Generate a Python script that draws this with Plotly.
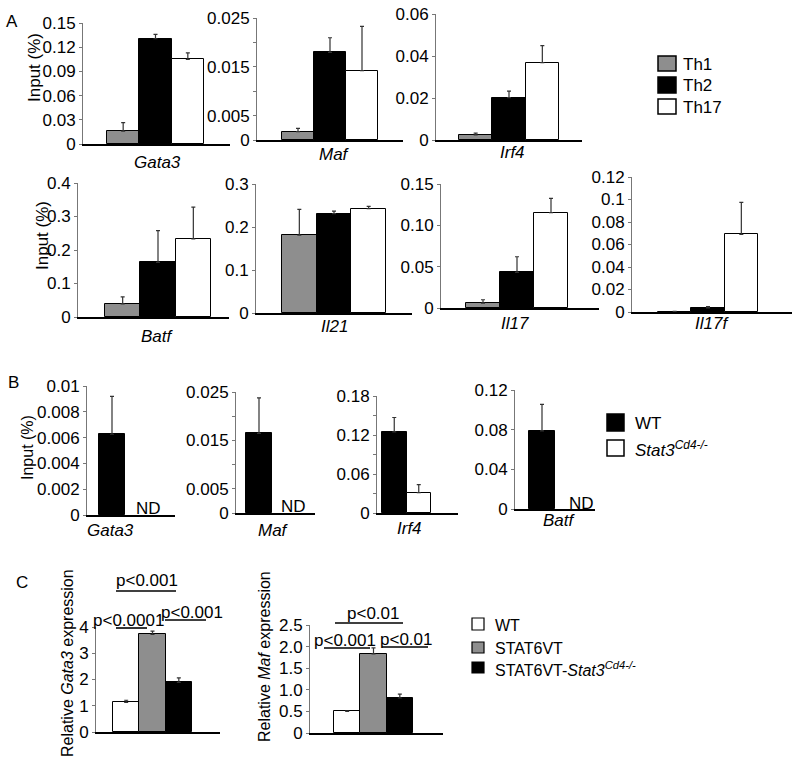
import plotly.graph_objects as go

W, H = 800, 762
FONT = "Liberation Sans, Arial, sans-serif"

# ---------------- data ----------------
groups_A = ["Th1", "Th2", "Th17"]
genes_A = ["Gata3", "Maf", "Irf4", "Batf", "Il21", "Il17", "Il17f"]
th1_vals = [0.016, 0.0017, 0.0024, 0.039, 0.181, 0.006, 0.0003]
th1_err = [0.0105, 0.0007, 0.0009, 0.021, 0.060, 0.004, 0.0002]
th2_vals = [0.1305, 0.01795, 0.0202, 0.163, 0.231, 0.043, 0.0036]
th2_err = [0.0055, 0.0030, 0.0031, 0.095, 0.006, 0.019, 0.0011]
th17_vals = [0.105, 0.0142, 0.0368, 0.233, 0.2425, 0.1154, 0.069]
th17_err = [0.008, 0.0091, 0.0081, 0.095, 0.0055, 0.0173, 0.0285]

groups_B = ["WT", "Stat3Cd4-/-"]
genes_B = ["Gata3", "Maf", "Irf4", "Batf"]
wt_vals = [0.00626, 0.01644, 0.1249, 0.0788]
wt_err = [0.00294, 0.00733, 0.022, 0.0268]
ko_vals = [None, None, 0.0314, None]
ko_err = [0.0, 0.0, 0.0123, 0.0]

groups_C = ["WT", "STAT6VT", "STAT6VT-Stat3Cd4-/-"]
gata3_C = [1.13, 3.72, 1.89]
gata3_C_err = [0.08, 0.12, 0.17]
maf_C = [0.50, 1.83, 0.81]
maf_C_err = [0.01, 0.14, 0.09]

# (labelled tick values, tick labels, unlabelled minor tick values)
ticks_A = [
    ([0, 0.03, 0.06, 0.09, 0.12, 0.15], ["0", "0.03", "0.06", "0.09", "0.12", "0.15"], []),
    ([0, 0.005, 0.015, 0.025], ["0", "0.005", "0.015", "0.025"], [0.01, 0.02]),
    ([0, 0.02, 0.04, 0.06], ["0", "0.02", "0.04", "0.06"], []),
    ([0, 0.1, 0.2, 0.3, 0.4], ["0", "0.1", "0.2", "0.3", "0.4"], []),
    ([0, 0.1, 0.2, 0.3], ["0", "0.1", "0.2", "0.3"], []),
    ([0, 0.05, 0.10, 0.15], ["0", "0.05", "0.10", "0.15"], []),
    ([0, 0.02, 0.04, 0.06, 0.08, 0.1, 0.12], ["0", "0.02", "0.04", "0.06", "0.08", "0.1", "0.12"], []),
]
ticks_B = [
    ([0, 0.002, 0.004, 0.006, 0.008, 0.01], ["0", "0.002", "0.004", "0.006", "0.008", "0.01"], []),
    ([0, 0.005, 0.015, 0.025], ["0", "0.005", "0.015", "0.025"], [0.01, 0.02]),
    ([0, 0.06, 0.12, 0.18], ["0", "0.06", "0.12", "0.18"], [0.03, 0.09, 0.15]),
    ([0, 0.04, 0.08, 0.12], ["0", "0.04", "0.08", "0.12"], []),
]
ticks_C = [
    ([0, 1, 2, 3, 4], ["0", "1", "2", "3", "4"], []),
    ([0, 0.5, 1.0, 1.5, 2.0, 2.5], ["0", "0.5", "1.0", "1.5", "2.0", "2.5"], []),
]

# ---------------- layout geometry (pixels) ----------------
geo_A = [  # axis x left/right, bars left/right, y zero px, y top px
    (83, 230, 107, 204, 144, 23),
    (257, 403, 282, 378, 140, 18),
    (436, 582, 459, 559, 140, 14),
    (78, 229, 105, 211, 317, 183),
    (256, 412, 282, 386, 313, 184),
    (441, 599, 466, 568, 308, 184),
    (632, 792, 658, 758, 312, 177),
]
geo_B = [
    (87, 175, 99, 151, 515, 386),
    (236, 315, 246, 298, 513, 392),
    (377, 458, 382, 431, 513, 396),
    (515, 595, 529, 581, 509, 390),
]
geo_C = [
    (96, 220, 113, 192, 732, 627),
    (310, 443, 334, 413, 733, 625),
]

GRAY = "#8e8e8e"


def X(p):
    return p / W


def Y(p):
    return 1 - p / H


fig = go.Figure()
layout = {}
idx = [0]


def add_panel(groups, vals, errs, colors, geo, tv, tt, minor):
    idx[0] += 1
    i = idx[0]
    xl, xr, bl, br, y0, y1 = geo
    n = len(groups)
    unit = (br - bl) / n
    c0 = bl + unit / 2
    xs = "x" if i == 1 else f"x{i}"
    ys = "y" if i == 1 else f"y{i}"
    fig.add_trace(go.Bar(
        x=groups, y=vals, xaxis=xs, yaxis=ys, width=1.0,
        marker=dict(color=colors, line=dict(color="black", width=1)),
        error_y=dict(type="data", symmetric=False, array=errs,
                     arrayminus=[0] * n, color="#333333", thickness=1.2, width=2),
        showlegend=False, hoverinfo="skip",
    ))
    layout["xaxis" if i == 1 else f"xaxis{i}"] = dict(
        domain=[X(xl), X(xr)], anchor=ys, type="category",
        categoryorder="array", categoryarray=groups,
        range=[(xl - c0) / unit, (xr - c0) / unit],
        showline=True, linecolor="black", linewidth=1.5, automargin=False,
        showticklabels=False, ticks="", showgrid=False, zeroline=False,
    )
    top = max(tv + minor)
    ya = dict(
        domain=[Y(y0), Y(y1)], anchor=xs, range=[0, top], automargin=False,
        showline=True, linecolor="#777777", linewidth=1,
        ticks="outside", ticklen=3, tickcolor="#777777",
        tickvals=tv, ticktext=tt, tickfont=dict(size=17, color="black", family=FONT),
        showgrid=False, zeroline=False,
    )
    if minor:
        ya["minor"] = dict(tickvals=minor, ticks="outside", ticklen=3,
                           tickcolor="#777777", showgrid=False)
    layout["yaxis" if i == 1 else f"yaxis{i}"] = ya
    return i


for k in range(len(genes_A)):
    add_panel(groups_A, [th1_vals[k], th2_vals[k], th17_vals[k]],
              [th1_err[k], th2_err[k], th17_err[k]],
              [GRAY, "black", "white"], geo_A[k], *ticks_A[k])

for k in range(len(genes_B)):
    add_panel(groups_B, [wt_vals[k], ko_vals[k]],
              [wt_err[k], ko_err[k]],
              ["black", "white"], geo_B[k], *ticks_B[k])

add_panel(groups_C, gata3_C, gata3_C_err, ["white", GRAY, "black"], geo_C[0], *ticks_C[0])
add_panel(groups_C, maf_C, maf_C_err, ["white", GRAY, "black"], geo_C[1], *ticks_C[1])

annotations = []
shapes = []


def text(x, y, s, size=17, angle=0, xanchor="center", italic=False):
    if italic:
        s = f"<i>{s}</i>"
    annotations.append(dict(
        x=X(x), y=Y(y), xref="paper", yref="paper", text=s, showarrow=False,
        xanchor=xanchor, yanchor="middle", textangle=angle,
        font=dict(size=size, color="black", family=FONT)))


def hline(x0, x1, y):
    shapes.append(dict(type="line", xref="paper", yref="paper",
                       x0=X(x0), x1=X(x1), y0=Y(y), y1=Y(y),
                       line=dict(color="black", width=1.6)))


def box(x0, y0, x1, y1, color, lw=1.5):
    shapes.append(dict(type="rect", xref="paper", yref="paper",
                       x0=X(x0), x1=X(x1), y0=Y(y0), y1=Y(y1),
                       fillcolor=color, line=dict(color="black", width=lw)))


# panel letters
text(12, 22, "A", size=17)
text(13, 383, "B", size=17)
text(22, 582, "C", size=17)

# y titles
text(34, 68, "Input (%)", angle=-90)
text(43, 236, "Input (%)", angle=-90)
text(27, 448, "Input (%)", size=16, angle=-90)
text(67, 663, "Relative <i>Gata3</i> expression", size=16, angle=-90)
text(264, 657, "Relative <i>Maf</i> expression", size=16, angle=-90)

# gene labels
gene_pos_A = [(157, 162), (334, 155), (512, 153), (157, 336), (334, 326), (515, 323), (712, 323)]
for g, (gx, gy) in zip(genes_A, gene_pos_A):
    text(gx, gy, g, italic=True)
gene_pos_B = [(110, 530), (273, 530), (410, 528), (559, 520)]
for g, (gx, gy) in zip(genes_B, gene_pos_B):
    text(gx, gy, g, italic=True)

# ND labels
nd_pos = [(148, 508), (293, 506), None, (581, 503)]
for k, p in enumerate(nd_pos):
    if ko_vals[k] is None and p is not None:
        text(p[0], p[1], "ND", size=17)

# legend A
legA_y = [(56, 71), (77, 93), (99, 114)]
for g, c, (a, b) in zip(groups_A, [GRAY, "black", "white"], legA_y):
    box(658, a, 676, b, c)
    text(681, (a + b) / 2 + 1, g, size=17, xanchor="left")

# legend B
legB = [("WT", "black", 414, 431), ("<i>Stat3</i><sup><i>Cd4-/-</i></sup>", "white", 440, 456)]
for s, c, a, b in legB:
    box(607, a, 624, b, c)
    text(633, (a + b) / 2 + 1, s, size=17, xanchor="left")

# legend C
legC = [("WT", "white", 618, 630),
        ("STAT6VT", GRAY, 642, 653),
        ("STAT6VT-<i>Stat3</i><sup><i>Cd4-/-</i></sup>", "black", 662, 673)]
for s, c, a, b in legC:
    box(472, a, 484, b, c, lw=1.2)
    text(493, (a + b) / 2 + 1, s, size=16, xanchor="left")

# significance (Gata3)
text(147, 580, "p<0.001", size=17)
hline(116, 176, 591)
text(128, 620, "p<0.0001", size=17)
hline(116, 147, 628)
text(192, 612, "p<0.001", size=17)
hline(165, 206, 620)
# significance (Maf)
text(373, 613, "p<0.01", size=17)
hline(335, 403, 623)
text(345, 640, "p<0.001", size=17)
hline(324, 370, 648)
text(406, 639, "p<0.01", size=17)
hline(382, 428, 647)

fig.update_layout(
    template="none",
    width=W, height=H, autosize=False,
    margin=dict(l=0, r=0, t=0, b=0, pad=0, autoexpand=False),
    paper_bgcolor="white", plot_bgcolor="white",
    bargap=0, barmode="overlay", showlegend=False,
    font=dict(family=FONT, color="black"),
    annotations=annotations, shapes=shapes,
    **layout,
)
fig.write_html("out.html", config={"displayModeBar": False},
               post_script="document.body.style.margin='0px';")
